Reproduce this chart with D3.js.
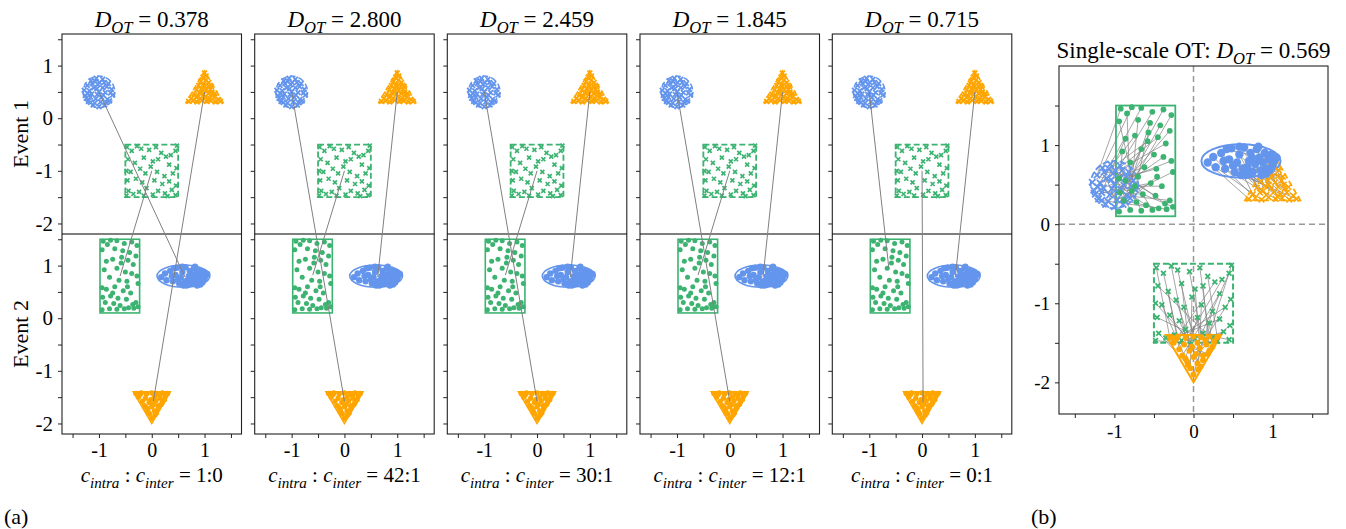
<!DOCTYPE html>
<html>
<head>
<meta charset="utf-8">
<script src="https://cdn.jsdelivr.net/npm/d3@7"></script>
<style>
  body { margin: 0; background: #fff; }
  text { font-family: "Liberation Serif", "DejaVu Serif", serif; fill: #000; }
</style>
</head>
<body>
<script>
'use strict';

// ---- data ----
const dotValues = ['0.378', '2.800', '2.459', '1.845', '0.715'];
const ratioLabels = ['1:0', '42:1', '30:1', '12:1', '0:1'];
const singleScaleDot = '0.569';

// cluster supports (data units)
const circleE1 = [-1.0, 0.5, 0.3, 0.3];            // cx, cy, rx, ry
const triE1 = [[0.65, 0.3], [1.35, 0.3], [1.0, 0.9]];
const squareE1 = [-0.5, -1.5, 0.5, -0.5];           // x0, y0, x1, y1
const rectE2 = [-0.98, 0.1, -0.23, 1.5];
const ellipseE2 = [0.6, 0.8, 0.5, 0.21];
const triE2 = [[-0.35, -1.4], [0.35, -1.4], [0.0, -2.0]];

// event 1 samples (x markers)
const blueE1 = [[-1.22,0.62],[-1.15,0.71],[-1.05,0.76],[-0.93,0.74],[-0.82,0.66],[-0.76,0.55],[-0.74,0.44],[-0.80,0.33],
  [-0.89,0.25],[-1.00,0.22],[-1.11,0.25],[-1.20,0.32],[-1.26,0.43],[-1.28,0.53],[-1.10,0.58],[-1.02,0.64],[-0.93,0.58],
  [-0.88,0.49],[-0.95,0.40],[-1.06,0.37],[-1.14,0.46],[-1.00,0.50],[-1.18,0.52],[-0.85,0.60],[-0.97,0.31],[-1.08,0.29],
  [-0.90,0.68],[-1.13,0.66],[-1.24,0.38],[-0.78,0.48],[-1.03,0.45],[-0.92,0.44],[-1.16,0.40],[-1.07,0.70],[-0.84,0.36],
  [-1.21,0.47],[-0.99,0.68],[-1.04,0.56],[-0.87,0.30],[-1.16,0.30]];
const orangeE1 = [[0.70,0.32],[0.78,0.33],[0.86,0.31],[0.95,0.34],[1.04,0.32],[1.12,0.33],[1.21,0.31],[1.30,0.32],
  [0.75,0.38],[0.84,0.40],[0.92,0.37],[1.02,0.41],[1.10,0.38],[1.18,0.40],[1.26,0.36],[0.80,0.46],[0.90,0.48],[0.98,0.45],
  [1.07,0.47],[1.15,0.45],[1.20,0.47],[0.85,0.54],[0.94,0.56],[1.03,0.53],[1.11,0.55],[0.89,0.62],[0.98,0.64],[1.07,0.61],
  [1.13,0.60],[0.93,0.70],[1.02,0.72],[1.08,0.68],[0.97,0.78],[1.03,0.80],[1.00,0.86],[0.88,0.42],[1.06,0.35],[1.14,0.50],
  [0.95,0.50],[0.99,0.60]];
const greenE1 = [[-0.47,-0.55],[-0.38,-0.62],[-0.28,-0.53],[-0.20,-0.58],[-0.05,-0.60],[0.08,-0.55],[0.18,-0.66],[0.27,-0.73],
  [0.36,-0.70],[0.45,-0.62],[0.48,-0.52],[-0.45,-0.78],[-0.32,-0.85],[-0.15,-0.75],[0.02,-0.82],[0.12,-0.78],[0.33,-0.88],
  [0.47,-0.95],[-0.48,-1.00],[-0.40,-1.02],[-0.22,-0.96],[-0.12,-1.05],[-0.02,-0.92],[0.10,-1.02],[0.24,-1.10],[0.40,-1.05],
  [-0.46,-1.18],[-0.30,-1.15],[-0.18,-1.22],[0.05,-1.18],[0.20,-1.25],[0.33,-1.20],[0.46,-1.28],[-0.44,-1.38],[-0.35,-1.44],
  [-0.24,-1.40],[-0.10,-1.33],[0.02,-1.45],[0.12,-1.38],[0.25,-1.43],[0.38,-1.36],[0.45,-1.46],[-0.48,-1.47],[-0.15,-1.47],
  [0.30,-1.48]];

// event 2 samples (dots)
const greenE2 = [[-0.92,1.46],[-0.78,1.48],[-0.66,1.47],[-0.52,1.42],[-0.38,1.45],[-0.28,1.38],[-0.94,1.30],[-0.70,1.32],
  [-0.55,1.28],[-0.42,1.25],[-0.30,1.18],[-0.86,1.08],[-0.74,1.12],[-0.58,1.05],[-0.45,1.10],[-0.35,1.02],[-0.90,0.92],
  [-0.66,0.95],[-0.50,0.88],[-0.38,0.85],[-0.28,0.80],[-0.80,0.78],[-0.62,0.72],[-0.47,0.70],[-0.26,0.66],[-0.94,0.58],
  [-0.86,0.55],[-0.70,0.60],[-0.54,0.52],[-0.40,0.48],[-0.93,0.40],[-0.78,0.42],[-0.64,0.38],[-0.48,0.36],[-0.30,0.30],
  [-0.88,0.30],[-0.72,0.28],[-0.60,0.24],[-0.44,0.20],[-0.34,0.19],[-0.26,0.22],[-0.94,0.16],[-0.80,0.18],[-0.66,0.17],
  [-0.52,0.18],[-0.36,0.26],[-0.57,1.16],[-0.84,1.40],[-0.46,0.60],[-0.74,0.48]];
const blueE2 = [[0.18,0.78],[0.25,0.85],[0.28,0.72],[0.35,0.90],[0.40,0.70],[0.45,0.82],[0.48,0.96],[0.52,0.66],[0.55,0.78],
  [0.58,0.88],[0.62,0.70],[0.64,0.97],[0.66,0.62],[0.70,0.80],[0.72,0.90],[0.75,0.66],[0.78,0.76],[0.80,0.95],[0.83,0.84],
  [0.85,0.68],[0.88,0.78],[0.90,0.90],[0.93,0.70],[0.95,0.82],[0.98,0.88],[1.00,0.74],[1.02,0.80],[0.60,0.62],[0.68,0.72],
  [0.74,0.84],[0.86,0.62],[0.92,0.64],[0.50,0.74],[0.42,0.95],[0.96,0.68],[0.82,0.98],[0.70,0.64],[1.05,0.84],[0.58,0.98],
  [0.38,0.80]];
const orangeE2 = [[-0.30,-1.43],[-0.20,-1.42],[-0.10,-1.44],[0.00,-1.42],[0.10,-1.43],[0.20,-1.42],[0.30,-1.43],[-0.25,-1.50],
  [-0.12,-1.52],[0.05,-1.50],[0.16,-1.52],[0.26,-1.48],[-0.18,-1.58],[-0.05,-1.60],[0.08,-1.57],[0.20,-1.60],[-0.14,-1.66],
  [0.00,-1.68],[0.12,-1.66],[-0.08,-1.74],[0.05,-1.76],[0.12,-1.72],[-0.04,-1.82],[0.06,-1.84],[0.00,-1.90],[-0.22,-1.45],
  [0.15,-1.47],[-0.02,-1.55],[0.09,-1.80],[-0.10,-1.70],[0.24,-1.55],[-0.26,-1.44],[0.03,-1.64],[-0.07,-1.78],[0.18,-1.64]];

// multi-scale matching of cluster centres: [x1, y1 (event 1), x2, y2 (event 2)]
const panelLinks = [
  [[-1.0, 0.5, 0.63, 0.78], [0.0, -1.0, -0.6, 0.8], [1.0, 0.5, 0.03, -1.58]],
  [[-1.0, 0.5, 0.0, -1.58], [0.0, -1.0, -0.6, 0.82], [1.0, 0.5, 0.63, 0.78]],
  [[-1.0, 0.5, 0.0, -1.58], [0.0, -1.0, -0.6, 0.82], [1.0, 0.5, 0.63, 0.78]],
  [[-1.0, 0.5, 0.0, -1.58], [0.0, -1.0, -0.6, 0.82], [1.0, 0.5, 0.63, 0.78]],
  [[-1.0, 0.5, -0.63, 0.96], [0.0, -1.0, 0.02, -1.6], [1.0, 0.5, 0.63, 0.78]]
];

const xTicks = [-1.5, -1, -0.5, 0, 0.5, 1, 1.5];
const yTicks = [-2, -1.5, -1, -0.5, 0, 0.5, 1, 1.5];

// ---- style ----
const blue = '#6495ed', orange = '#ffa500', green = '#3cb371';
const lineGray = '#808080';
const intLabel = d => Number.isInteger(d) ? String(d) : '';

const svg = d3.select('body').append('svg')
    .attr('width', 1346)
    .attr('height', 529);

function xMarks(g, pts, x, y, color, s, w) {
  g.append('g').selectAll('path').data(pts).join('path')
      .attr('d', d => {
        const px = x(d[0]), py = y(d[1]);
        return `M${px - s},${py - s}L${px + s},${py + s}M${px - s},${py + s}L${px + s},${py - s}`;
      })
      .attr('fill', 'none')
      .attr('stroke', color)
      .attr('stroke-width', w);
}

function dots(g, pts, x, y, color, r) {
  g.append('g').selectAll('circle').data(pts).join('circle')
      .attr('cx', d => x(d[0]))
      .attr('cy', d => y(d[1]))
      .attr('r', r)
      .attr('fill', color);
}

function outline(sel, color, dashed, w) {
  return sel.attr('fill', 'none')
      .attr('stroke', color)
      .attr('stroke-width', w)
      .attr('stroke-dasharray', dashed ? '6,3' : null);
}

function drawEllipse(g, e, x, y, color, dashed, w) {
  outline(g.append('ellipse'), color, dashed, w)
      .attr('cx', x(e[0])).attr('cy', y(e[1]))
      .attr('rx', x(e[0] + e[2]) - x(e[0]))
      .attr('ry', y(e[1]) - y(e[1] + e[3]));
}

function drawPoly(g, verts, x, y, color, dashed, w) {
  outline(g.append('path'), color, dashed, w)
      .attr('d', d3.line().x(d => x(d[0])).y(d => y(d[1]))(verts) + 'Z');
}

function drawRect(g, r, x, y, color, dashed, w) {
  outline(g.append('rect'), color, dashed, w)
      .attr('x', x(r[0])).attr('y', y(r[3]))
      .attr('width', x(r[2]) - x(r[0]))
      .attr('height', y(r[1]) - y(r[3]));
}

function styleAxis(a, size) {
  a.select('.domain').remove();
  a.selectAll('.tick line').attr('stroke', '#222').attr('stroke-width', 1);
  a.selectAll('.tick text')
      .style('font-family', '"Liberation Serif", serif')
      .style('font-size', size + 'px')
      .attr('fill', '#000');
}

function mathLabel(g, cx, cy, size, parts) {
  const t = g.append('text')
      .attr('x', cx).attr('y', cy)
      .attr('text-anchor', 'middle')
      .style('font-size', size + 'px');
  let shift = 0;
  parts.forEach(p => {
    const dy = (p.sub ? size * 0.28 : 0) - shift;
    shift += dy;
    t.append('tspan')
        .attr('dy', dy)
        .style('font-style', p.it ? 'italic' : 'normal')
        .style('font-size', (p.sub ? size * 0.72 : size) + 'px')
        .text(p.s);
  });
}

// ---- (a) five panels ----
const panelLeft = [62, 254.7, 447.3, 640, 832.3];
const panelW = 179.5;
const top1 = 34, mid = 234, bot2 = 434;

panelLeft.forEach((L, i) => {
  const x = d3.scaleLinear().domain([-1.7, 1.7]).range([L, L + panelW]);
  const y1 = d3.scaleLinear().domain([-2.2, 1.6]).range([mid, top1]);
  const y2 = d3.scaleLinear().domain([-2.2, 1.6]).range([bot2, mid]);
  const g = svg.append('g');

  // event 1
  drawEllipse(g, circleE1, x, y1, blue, true, 1.5);
  drawPoly(g, triE1, x, y1, orange, true, 1.6);
  drawRect(g, squareE1, x, y1, green, true, 1.8);
  xMarks(g, blueE1, x, y1, blue, 2.4, 1.8);
  xMarks(g, orangeE1, x, y1, orange, 2.4, 1.8);
  xMarks(g, greenE1, x, y1, green, 2.0, 1.7);

  // event 2
  drawRect(g, rectE2, x, y2, green, false, 1.6);
  drawEllipse(g, ellipseE2, x, y2, blue, false, 1.6);
  drawPoly(g, triE2, x, y2, orange, false, 1.6);
  dots(g, greenE2, x, y2, green, 2.5);
  dots(g, blueE2, x, y2, blue, 3.2);
  dots(g, orangeE2, x, y2, orange, 2.7);

  // axes
  const fmt = i === 0 ? intLabel : () => '';
  g.append('g').attr('transform', `translate(${L},0)`)
      .call(d3.axisLeft(y1).tickValues(yTicks).tickFormat(fmt).tickSize(4).tickPadding(5))
      .call(a => styleAxis(a, 21));
  g.append('g').attr('transform', `translate(${L},0)`)
      .call(d3.axisLeft(y2).tickValues(yTicks).tickFormat(fmt).tickSize(4).tickPadding(5))
      .call(a => styleAxis(a, 21));
  g.append('g').attr('transform', `translate(0,${bot2})`)
      .call(d3.axisBottom(x).tickValues(xTicks).tickFormat(intLabel).tickSize(4).tickPadding(5))
      .call(a => styleAxis(a, 20));

  g.append('rect')
      .attr('x', L).attr('y', top1)
      .attr('width', panelW).attr('height', bot2 - top1)
      .attr('fill', 'none').attr('stroke', '#222').attr('stroke-width', 1.1);
  g.append('line')
      .attr('x1', L).attr('x2', L + panelW)
      .attr('y1', mid).attr('y2', mid)
      .attr('stroke', '#000').attr('stroke-width', 1.2);

  // matching lines across events
  g.append('g').selectAll('line').data(panelLinks[i]).join('line')
      .attr('x1', d => x(d[0])).attr('y1', d => y1(d[1]))
      .attr('x2', d => x(d[2])).attr('y2', d => y2(d[3]))
      .attr('stroke', lineGray).attr('stroke-width', 1);

  const cx = L + panelW / 2;
  mathLabel(g, cx, 27, 23, [
    {s: 'D', it: true}, {s: 'OT', it: true, sub: true}, {s: ' = ' + dotValues[i]}
  ]);
  mathLabel(g, cx, 482, 21, [
    {s: 'c', it: true}, {s: 'intra', it: true, sub: true}, {s: ' : '},
    {s: 'c', it: true}, {s: 'inter', it: true, sub: true}, {s: ' = ' + ratioLabels[i]}
  ]);
});

svg.append('text').attr('transform', `translate(28,${(top1 + mid) / 2}) rotate(-90)`)
    .attr('text-anchor', 'middle').style('font-size', '22px').text('Event 1');
svg.append('text').attr('transform', `translate(28,${(mid + bot2) / 2}) rotate(-90)`)
    .attr('text-anchor', 'middle').style('font-size', '22px').text('Event 2');
svg.append('text').attr('x', 4).attr('y', 524).style('font-size', '22px').text('(a)');

// ---- (b) single-scale OT ----
const bL = 1059, bR = 1328, bT = 66, bB = 414;
const xb = d3.scaleLinear().domain([-1.7, 1.7]).range([bL, bR]);
const yb = d3.scaleLinear().domain([-2.4, 2.0]).range([bB, bT]);
const gb = svg.append('g');

gb.append('line')
    .attr('x1', xb(0)).attr('x2', xb(0)).attr('y1', bT).attr('y2', bB)
    .attr('stroke', '#999').attr('stroke-width', 1.5).attr('stroke-dasharray', '6,4');
gb.append('line')
    .attr('x1', bL).attr('x2', bR).attr('y1', yb(0)).attr('y2', yb(0))
    .attr('stroke', '#999').attr('stroke-width', 1.5).attr('stroke-dasharray', '6,4');

// transport plan: sample k of an event 1 cluster -> sample k of an event 2 cluster
const plan = [
  [blueE1, greenE2],
  [orangeE1, blueE2],
  [greenE1, orangeE2]
];
plan.forEach(([src, dst]) => {
  const n = Math.max(src.length, dst.length);
  gb.append('g').selectAll('line').data(d3.range(n)).join('line')
      .attr('x1', k => xb(src[k % src.length][0])).attr('y1', k => yb(src[k % src.length][1]))
      .attr('x2', k => xb(dst[k % dst.length][0])).attr('y2', k => yb(dst[k % dst.length][1]))
      .attr('stroke', lineGray).attr('stroke-opacity', 0.7).attr('stroke-width', 1);
});

drawEllipse(gb, circleE1, xb, yb, blue, true, 1.8);
drawPoly(gb, triE1, xb, yb, orange, true, 1.8);
drawRect(gb, squareE1, xb, yb, green, true, 2);
drawRect(gb, rectE2, xb, yb, green, false, 1.8);
drawEllipse(gb, ellipseE2, xb, yb, blue, false, 2);
drawPoly(gb, triE2, xb, yb, orange, false, 2);

xMarks(gb, blueE1, xb, yb, blue, 3.2, 1.8);
xMarks(gb, orangeE1, xb, yb, orange, 2.8, 1.6);
xMarks(gb, greenE1, xb, yb, green, 2.4, 1.8);
dots(gb, greenE2, xb, yb, green, 2.9);
dots(gb, blueE2, xb, yb, blue, 4.2);
dots(gb, orangeE2, xb, yb, orange, 3);

gb.append('g').attr('transform', `translate(${bL},0)`)
    .call(d3.axisLeft(yb).tickValues(yTicks).tickFormat(intLabel).tickSize(4).tickPadding(5))
    .call(a => styleAxis(a, 19));
gb.append('g').attr('transform', `translate(0,${bB})`)
    .call(d3.axisBottom(xb).tickValues(xTicks).tickFormat(intLabel).tickSize(4).tickPadding(7))
    .call(a => styleAxis(a, 19));
gb.append('rect')
    .attr('x', bL).attr('y', bT).attr('width', bR - bL).attr('height', bB - bT)
    .attr('fill', 'none').attr('stroke', '#222').attr('stroke-width', 1.1);

mathLabel(gb, (bL + bR) / 2, 58, 23, [
  {s: 'Single-scale OT: '}, {s: 'D', it: true}, {s: 'OT', it: true, sub: true}, {s: ' = ' + singleScaleDot}
]);
svg.append('text').attr('x', 1031).attr('y', 524).style('font-size', '22px').text('(b)');
</script>
</body>
</html>
